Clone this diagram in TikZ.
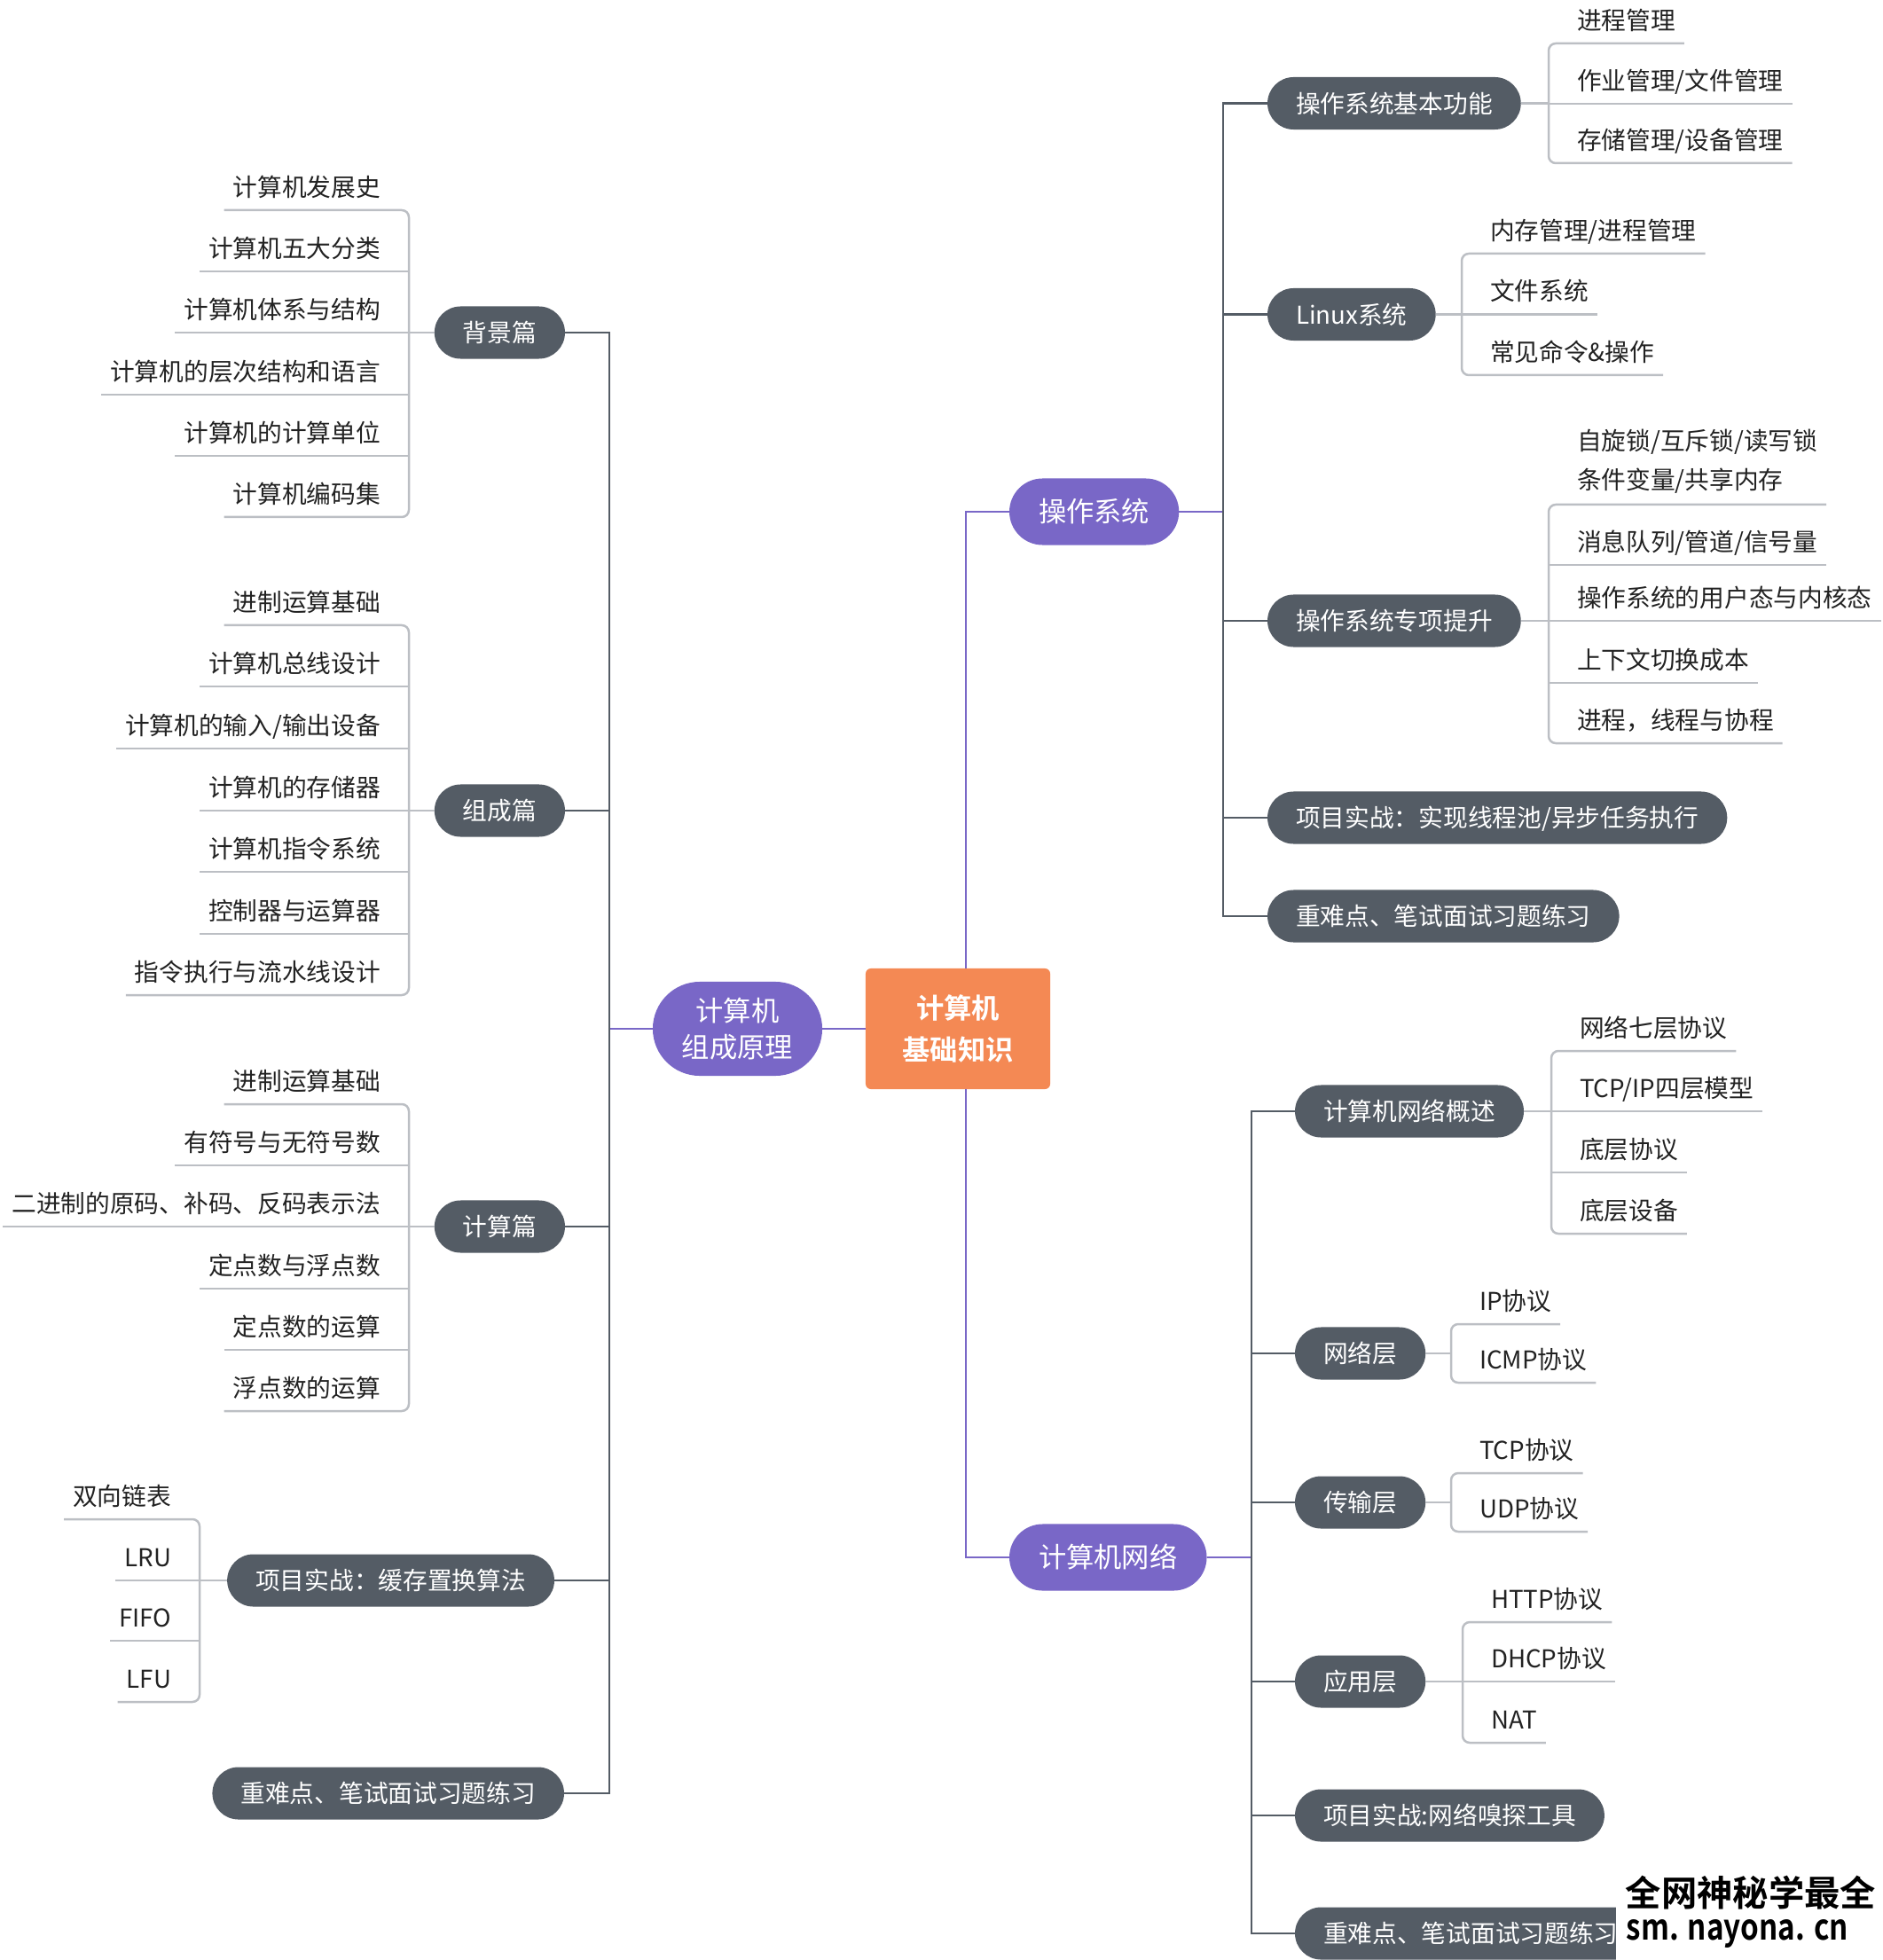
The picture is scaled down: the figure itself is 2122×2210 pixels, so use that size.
\documentclass[tikz,border=0pt]{standalone}
\usepackage{graphicx}
\usepackage{fontspec}
\setmainfont{Noto Sans CJK SC}[BoldFont={Noto Sans CJK SC Bold}]
\definecolor{RootOrange}{RGB}{244,137,84}
\definecolor{MainPurple}{RGB}{121,103,199}
\definecolor{TopicGray}{RGB}{84,92,101}
\definecolor{BranchGray}{RGB}{188,191,196}
\definecolor{LeafInk}{RGB}{34,34,34}
\newcommand{\leafsize}{\fontsize{7.88pt}{12.5pt}\selectfont}
\newcommand{\mainsize}{\fontsize{8.9pt}{11.7pt}\selectfont}
\newcommand{\rootsize}{\fontsize{8.9pt}{13.5pt}\selectfont\bfseries}
\newcommand{\marksize}{\fontsize{11.4pt}{13pt}\selectfont\bfseries}
\tikzset{
  rootnode/.style  = {fill=RootOrange, rounded corners=0.06cm, minimum width=2.08cm,
                      minimum height=1.36cm, inner sep=0, outer sep=0, align=center,
                      text=white, font=\rootsize},
  mainnode/.style  = {fill=MainPurple, rounded corners=0.375cm, minimum height=0.75cm,
                      inner xsep=0.33cm, inner ysep=0, outer sep=0, text height=0.275cm,
                      text depth=0.038cm, text=white, font=\mainsize},
  mainnodeb/.style = {fill=MainPurple, rounded corners=0.53cm, minimum width=1.91cm,
                      minimum height=1.06cm, inner sep=0, outer sep=0, align=center,
                      text=white, font=\mainsize},
  topicnode/.style = {fill=TopicGray, rounded corners=0.295cm, minimum height=0.59cm,
                      inner xsep=0.32cm, inner ysep=0, outer sep=0, text height=0.244cm,
                      text depth=0.033cm, text=white, font=\leafsize},
  leafnode/.style  = {inner xsep=0.10cm, inner ysep=0.1265cm, outer sep=0, text height=0.244cm,
                      text depth=0.033cm, text=LeafInk, font=\leafsize},
  leafnodeb/.style = {inner xsep=0.10cm, inner ysep=0.13cm, outer sep=0, align=left,
                      text=LeafInk, font=\leafsize},
  purline/.style   = {draw=MainPurple, line width=0.025cm},
  trunkline/.style = {draw=TopicGray, line width=0.025cm},
  branchline/.style= {draw=BranchGray, line width=0.025cm},
  brace/.style     = {draw=BranchGray, line width=0.025cm, rounded corners=0.08cm},
  markline/.style  = {inner sep=0, text=black, font=\marksize}
}
\begin{document}
\begin{tikzpicture}[x=0.01cm, y=-0.01cm]
\useasboundingbox (0,0) rectangle (2122,2210);
\coordinate (rx) at (1089,0);
\coordinate (tl) at (687,0);
\coordinate (tr1) at (1379,0);
\coordinate (tr2) at (1411,0);
\coordinate (xa) at (461,0);
\coordinate (xd) at (225,0);
\coordinate (xe) at (1746,0);
\coordinate (xf) at (1648,0);
\coordinate (xh) at (1749,0);
\coordinate (xi) at (1636,0);
\coordinate (xk) at (1649,0);

\node[rootnode] (root) at (1080,1160) {计算机\\基础知识};
\node[mainnodeb] (zc) at (831.5,1160) {计算机\\组成原理};
\node[mainnode,anchor=west] (os) at (1138,577) {操作系统};
\node[mainnode,anchor=west] (net) at (1138,1756) {计算机网络};

\node[topicnode,anchor=east] (bg) at (637,375) {背景篇};
\node[topicnode,anchor=east] (zcp) at (637,914) {组成篇};
\node[topicnode,anchor=east] (jsp) at (637,1383) {计算篇};
\node[topicnode,anchor=east] (xm1) at (625,1782) {项目实战：缓存置换算法};
\node[topicnode,anchor=east] (zn1) at (636,2022) {重难点、笔试面试习题练习};

\node[leafnode,anchor=south east] (a1) at (439,237) {计算机发展史};
\node[leafnode,anchor=south east] (a2) at (439,306) {计算机五大分类};
\node[leafnode,anchor=south east] (a3) at (439,375) {计算机体系与结构};
\node[leafnode,anchor=south east] (a4) at (439,445) {计算机的层次结构和语言};
\node[leafnode,anchor=south east] (a5) at (439,514) {计算机的计算单位};
\node[leafnode,anchor=south east] (a6) at (439,583) {计算机编码集};

\node[leafnode,anchor=south east] (b1) at (439,705) {进制运算基础};
\node[leafnode,anchor=south east] (b2) at (439,774) {计算机总线设计};
\node[leafnode,anchor=south east] (b3) at (439,844) {计算机的输入/输出设备};
\node[leafnode,anchor=south east] (b4) at (439,914) {计算机的存储器};
\node[leafnode,anchor=south east] (b5) at (439,983) {计算机指令系统};
\node[leafnode,anchor=south east] (b6) at (439,1053) {控制器与运算器};
\node[leafnode,anchor=south east] (b7) at (439,1122) {指令执行与流水线设计};

\node[leafnode,anchor=south east] (c1) at (439,1245) {进制运算基础};
\node[leafnode,anchor=south east] (c2) at (439,1314) {有符号与无符号数};
\node[leafnode,anchor=south east] (c3) at (439,1383) {二进制的原码、补码、反码表示法};
\node[leafnode,anchor=south east] (c4) at (439,1453) {定点数与浮点数};
\node[leafnode,anchor=south east] (c5) at (439,1522) {定点数的运算};
\node[leafnode,anchor=south east] (c6) at (439,1591) {浮点数的运算};

\node[leafnode,anchor=south east] (d1) at (203,1713) {双向链表};
\node[leafnode,anchor=south east] (d2) at (203,1782) {LRU};
\node[leafnode,anchor=south east] (d3) at (203,1850) {FIFO};
\node[leafnode,anchor=south east] (d4) at (203,1919) {LFU};

\node[topicnode,anchor=west] (o1) at (1429,116.5) {操作系统基本功能};
\node[topicnode,anchor=west] (o2) at (1429,354.5) {Linux系统};
\node[topicnode,anchor=west] (o3) at (1429,700) {操作系统专项提升};
\node[topicnode,anchor=west] (o4) at (1429,922) {项目实战：实现线程池/异步任务执行};
\node[topicnode,anchor=west] (o5) at (1429,1033) {重难点、笔试面试习题练习};

\node[leafnode,anchor=south west] (e1) at (1768,49) {进程管理};
\node[leafnode,anchor=south west] (e2) at (1768,117) {作业管理/文件管理};
\node[leafnode,anchor=south west] (e3) at (1768,184) {存储管理/设备管理};

\node[leafnode,anchor=south west] (f1) at (1670,286) {内存管理/进程管理};
\node[leafnode,anchor=south west] (f2) at (1670,354.5) {文件系统};
\node[leafnode,anchor=south west] (f3) at (1670,423) {常见命令\&操作};

\node[leafnodeb,anchor=south west] (g1) at (1768,569) {自旋锁/互斥锁/读写锁\\条件变量/共享内存};
\node[leafnode,anchor=south west] (g2) at (1768,637) {消息队列/管道/信号量};
\node[leafnode,anchor=south west] (g3) at (1768,700) {操作系统的用户态与内核态};
\node[leafnode,anchor=south west] (g4) at (1768,770) {上下文切换成本};
\node[leafnode,anchor=south west] (g5) at (1768,838) {进程，线程与协程};

\node[topicnode,anchor=west] (n1) at (1460,1253) {计算机网络概述};
\node[topicnode,anchor=west] (n2) at (1460,1526) {网络层};
\node[topicnode,anchor=west] (n3) at (1460,1694) {传输层};
\node[topicnode,anchor=west] (n4) at (1460,1896) {应用层};
\node[topicnode,anchor=west] (n5) at (1460,2047) {项目实战:网络嗅探工具};
\node[topicnode,anchor=west] (n6) at (1460,2180) {重难点、笔试面试习题练习};

\node[leafnode,anchor=south west] (h1) at (1771,1185) {网络七层协议};
\node[leafnode,anchor=south west] (h2) at (1771,1253) {TCP/IP四层模型};
\node[leafnode,anchor=south west] (h3) at (1771,1322) {底层协议};
\node[leafnode,anchor=south west] (h4) at (1771,1391) {底层设备};

\node[leafnode,anchor=south west] (i1) at (1658,1493) {IP协议};
\node[leafnode,anchor=south west] (i2) at (1658,1559) {ICMP协议};
\node[leafnode,anchor=south west] (j1) at (1658,1661) {TCP协议};
\node[leafnode,anchor=south west] (j2) at (1658,1727) {UDP协议};

\node[leafnode,anchor=south west] (k1) at (1671,1829) {HTTP协议};
\node[leafnode,anchor=south west] (k2) at (1671,1896) {DHCP协议};
\node[leafnode,anchor=south west] (k3) at (1671,1965) {NAT};

\draw[purline] (root.west) -- (zc.east);
\draw[purline] (zc.west) -- (zc.west -| tl);
\draw[purline] (root.north -| rx) |- (os.west);
\draw[purline] (root.south -| rx) |- (net.west);
\draw[purline] (os.east) -- (os.east -| tr1);
\draw[purline] (net.east) -- (net.east -| tr2);

\draw[trunkline] (bg.east) -- (bg.east -| tl) -- (zn1.east -| tl) -- (zn1.east);
\draw[trunkline] (zcp.east) -- (zcp.east -| tl) (jsp.east) -- (jsp.east -| tl) (xm1.east) -- (xm1.east -| tl);
\draw[trunkline] (o1.west) -- (o1.west -| tr1) -- (o5.west -| tr1) -- (o5.west);
\draw[trunkline] (o2.west) -- (o2.west -| tr1) (o3.west) -- (o3.west -| tr1) (o4.west) -- (o4.west -| tr1);
\draw[trunkline] (n1.west) -- (n1.west -| tr2) -- (n6.west -| tr2) -- (n6.west);
\draw[trunkline] (n2.west) -- (n2.west -| tr2) (n3.west) -- (n3.west -| tr2) (n4.west) -- (n4.west -| tr2) (n5.west) -- (n5.west -| tr2);

\draw[brace] (a1.south west) -- (a1.south -| xa) -- (a6.south -| xa) -- (a6.south west);
\draw[branchline] (a2.south west) -- (a2.south -| xa) (a3.south west) -- (a3.south -| xa) (a4.south west) -- (a4.south -| xa) (a5.south west) -- (a5.south -| xa);
\draw[branchline] (bg.west) -- (bg.west -| xa);
\draw[brace] (b1.south west) -- (b1.south -| xa) -- (b7.south -| xa) -- (b7.south west);
\draw[branchline] (b2.south west) -- (b2.south -| xa) (b3.south west) -- (b3.south -| xa) (b4.south west) -- (b4.south -| xa) (b5.south west) -- (b5.south -| xa) (b6.south west) -- (b6.south -| xa);
\draw[branchline] (zcp.west) -- (zcp.west -| xa);
\draw[brace] (c1.south west) -- (c1.south -| xa) -- (c6.south -| xa) -- (c6.south west);
\draw[branchline] (c2.south west) -- (c2.south -| xa) (c3.south west) -- (c3.south -| xa) (c4.south west) -- (c4.south -| xa) (c5.south west) -- (c5.south -| xa);
\draw[branchline] (jsp.west) -- (jsp.west -| xa);
\draw[brace] (d1.south west) -- (d1.south -| xd) -- (d4.south -| xd) -- (d4.south west);
\draw[branchline] (d2.south west) -- (d2.south -| xd) (d3.south west) -- (d3.south -| xd);
\draw[branchline] (xm1.west) -- (xm1.west -| xd);

\draw[brace] (e1.south east) -- (e1.south -| xe) -- (e3.south -| xe) -- (e3.south east);
\draw[branchline] (e2.south -| xe) -- (e2.south east);
\draw[branchline] (o1.east) -- (o1.east -| xe);
\draw[brace] (f1.south east) -- (f1.south -| xf) -- (f3.south -| xf) -- (f3.south east);
\draw[branchline] (f2.south -| xf) -- (f2.south east);
\draw[branchline] (o2.east) -- (o2.east -| xf);
\draw[brace] (g1.south east) -- (g1.south -| xe) -- (g5.south -| xe) -- (g5.south east);
\draw[branchline] (g2.south -| xe) -- (g2.south east) (g3.south -| xe) -- (g3.south east) (g4.south -| xe) -- (g4.south east);
\draw[branchline] (o3.east) -- (o3.east -| xe);

\draw[brace] (h1.south east) -- (h1.south -| xh) -- (h4.south -| xh) -- (h4.south east);
\draw[branchline] (h2.south -| xh) -- (h2.south east) (h3.south -| xh) -- (h3.south east);
\draw[branchline] (n1.east) -- (n1.east -| xh);
\draw[brace] (i1.south east) -- (i1.south -| xi) -- (i2.south -| xi) -- (i2.south east);
\draw[branchline] (n2.east) -- (n2.east -| xi);
\draw[brace] (j1.south east) -- (j1.south -| xi) -- (j2.south -| xi) -- (j2.south east);
\draw[branchline] (n3.east) -- (n3.east -| xi);
\draw[brace] (k1.south east) -- (k1.south -| xk) -- (k3.south -| xk) -- (k3.south east);
\draw[branchline] (k2.south -| xk) -- (k2.south east);
\draw[branchline] (n4.east) -- (n4.east -| xk);

\fill[white] (1822,2100) rectangle (2122,2210);
\node[markline] (wm1) at (1974,2134) {\resizebox{2.82cm}{\height}{全网神秘学最全}};
\node[markline,anchor=west] (wm2) at (1833,2180) {\resizebox{2.50cm}{\height}{sm. nayona. cn}};
\end{tikzpicture}
\end{document}
